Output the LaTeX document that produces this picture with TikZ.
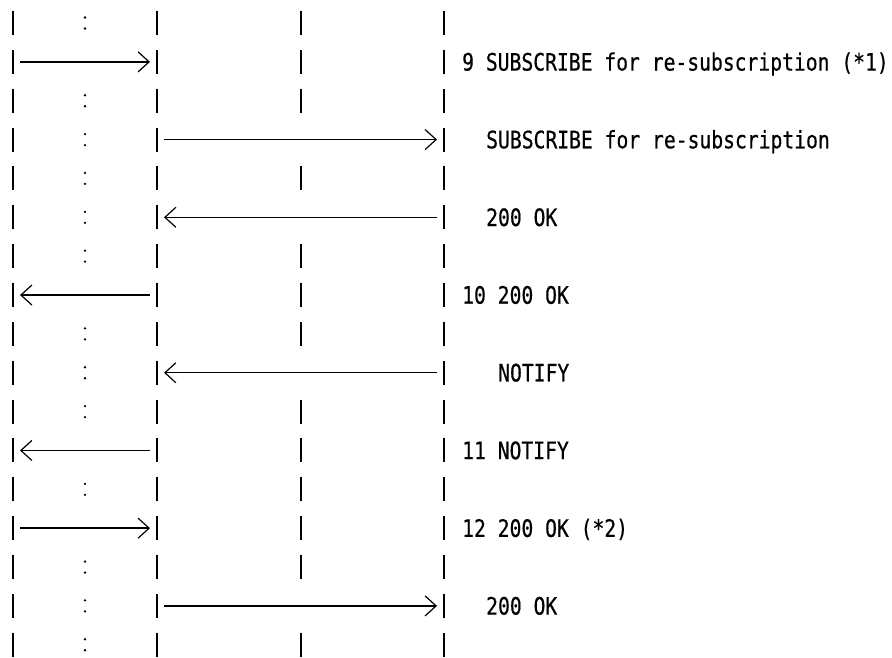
\documentclass[tikz,border=0pt]{standalone}
\usepackage{fontspec}
\newfontfamily\msgfont[FakeStretch=0.82,FakeBold=0.5]{DejaVu Sans Mono}
\usetikzlibrary{arrows.meta}

\begin{document}
\begin{tikzpicture}[
x=1pt, y=-1pt,
life/.style={line width=1.8pt},
dot/.style={fill=black},
msg/.style={line width=1.4pt, shorten <=7pt, shorten >=7pt, -{Straight Barb[length=11pt,width=20pt,line width=1.2pt]}},
lbl/.style={anchor=base west, inner sep=0pt, font=\msgfont\fontsize{24}{24}\selectfont}
]
\useasboundingbox (0,0) rectangle (892,657);
% one row of lifeline points per text line
\foreach \r in {1,...,17}{
  \pgfmathsetmacro{\y}{23+38.86*(\r-1)}
  \coordinate (a\r) at (13,\y);
  \coordinate (k\r) at (85,\y);
  \coordinate (b\r) at (157,\y);
  \coordinate (c\r) at (301,\y);
  \coordinate (d\r) at (444,\y);
}
% lifelines
\foreach \r in {1,...,17}
  \draw[life] ([yshift=12pt]a\r) -- ([yshift=-12pt]a\r)
              ([yshift=12pt]b\r) -- ([yshift=-12pt]b\r)
              ([yshift=12pt]d\r) -- ([yshift=-12pt]d\r);
\foreach \r in {1,2,3,5,7,8,9,11,12,13,14,15,17}
  \draw[life] ([yshift=12pt]c\r) -- ([yshift=-12pt]c\r);
\foreach \r in {1,3,4,5,6,7,9,10,11,13,15,16,17}
  \fill[dot] ([yshift=5.5pt]k\r) circle (1.3pt) ([yshift=-5.5pt]k\r) circle (1.3pt);
% messages
\draw[msg] (a2) -- (b2);
\draw[msg] (b4) -- (d4);
\draw[msg] (d6) -- (b6);
\draw[msg] (b8) -- (a8);
\draw[msg] (d10) -- (b10);
\draw[msg] (b12) -- (a12);
\draw[msg] (a14) -- (b14);
\draw[msg] (b16) -- (d16);
\node[lbl] (t2) at ([xshift=18pt,yshift=-8.7pt]d2) {9 SUBSCRIBE for re-subscription (*1)};
\node[lbl] (t4) at ([xshift=42pt,yshift=-8.7pt]d4) {SUBSCRIBE for re-subscription};
\node[lbl] (t6) at ([xshift=42pt,yshift=-8.7pt]d6) {200 OK};
\node[lbl] (t8) at ([xshift=18pt,yshift=-8.7pt]d8) {10 200 OK};
\node[lbl] (t10) at ([xshift=54pt,yshift=-8.7pt]d10) {NOTIFY};
\node[lbl] (t12) at ([xshift=18pt,yshift=-8.7pt]d12) {11 NOTIFY};
\node[lbl] (t14) at ([xshift=18pt,yshift=-8.7pt]d14) {12 200 OK (*2)};
\node[lbl] (t16) at ([xshift=42pt,yshift=-8.7pt]d16) {200 OK};
\end{tikzpicture}
\end{document}
